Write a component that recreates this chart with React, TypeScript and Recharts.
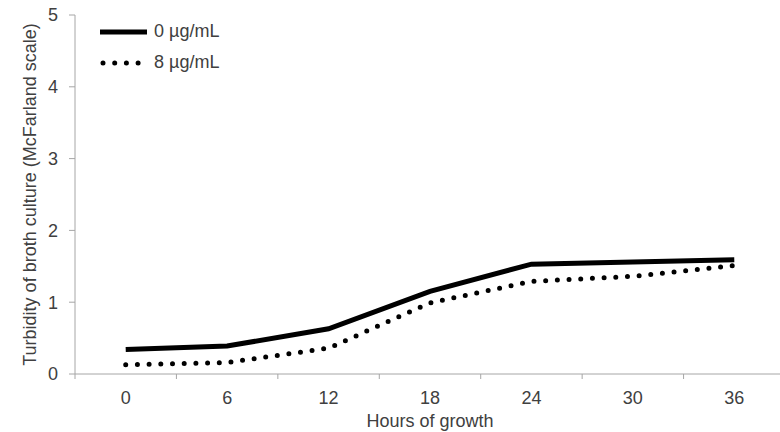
import { LineChart, Line, XAxis, YAxis } from 'recharts';

const hours = [0, 6, 12, 18, 24, 30, 36];
const control = [0.34, 0.39, 0.63, 1.15, 1.53, 1.56, 1.59];
const treated = [0.13, 0.16, 0.36, 0.99, 1.29, 1.36, 1.51];
const yTicks = [0, 1, 2, 3, 4, 5];
const xLabelTicks = [0, 6, 12, 18, 24, 30, 36];
const xMarkTicks = [-3, 3, 9, 15, 21, 27, 33, 39];

const data = hours.map((h, i) => ({ hour: h, control: control[i], treated: treated[i] }));

const font = 'Liberation Sans, Arial, sans-serif';
const textColor = '#404040';
const axisColor = '#a6a6a6';

const LegendBox = () => (
  <div style={{ position: 'absolute', left: 96, top: 16, fontFamily: font, fontSize: 18, color: textColor }}>
    <div style={{ display: 'flex', alignItems: 'center', height: 31 }}>
      <svg width={58} height={10}>
        <line x1={4} y1={5} x2={51} y2={5} stroke="#000" strokeWidth={5} />
      </svg>
      <span>0 µg/mL</span>
    </div>
    <div style={{ display: 'flex', alignItems: 'center', height: 31 }}>
      <svg width={58} height={10}>
        <line x1={7} y1={5} x2={46} y2={5} stroke="#000" strokeWidth={5} strokeDasharray="0 11.7" strokeLinecap="round" />
      </svg>
      <span>8 µg/mL</span>
    </div>
  </div>
);

export default function App() {
  return (
    <div style={{ position: 'absolute', left: 0, top: 0, width: 780, height: 432, overflow: 'hidden', background: '#fff' }}>
      <LineChart width={790} height={432} data={data} margin={{ top: 15, right: 5, bottom: 0, left: 0 }}>
        <XAxis
          xAxisId="b"
          dataKey="hour"
          type="number"
          domain={[-3, 39]}
          ticks={xLabelTicks}
          axisLine={false}
          tickLine={false}
          tickMargin={10}
          height={57}
          tick={{ fill: textColor, fontSize: 18, fontFamily: font }}
          label={{ value: 'Hours of growth', position: 'insideBottom', offset: 5, fill: textColor, fontSize: 18, fontFamily: font }}
        />
        <XAxis
          xAxisId="a"
          dataKey="hour"
          type="number"
          domain={[-3, 39]}
          ticks={xMarkTicks}
          tickFormatter={() => ''}
          height={1}
          tickSize={5}
          stroke={axisColor}
          allowDataOverflow
        />
        <YAxis
          domain={[0, 5]}
          ticks={yTicks}
          width={75}
          tickSize={6}
          tickMargin={11}
          stroke={axisColor}
          tick={{ fill: textColor, fontSize: 18, fontFamily: font }}
          label={{ value: 'Turbidity of broth culture (McFarland scale)', angle: -90, position: 'center', dx: -8, fill: textColor, fontSize: 18, fontFamily: font }}
        />
        <Line xAxisId="b" dataKey="control" stroke="#000" strokeWidth={5} dot={false} isAnimationActive={false} />
        <Line
          xAxisId="b"
          dataKey="treated"
          stroke="#000"
          strokeWidth={5}
          strokeDasharray="0 11.7"
          strokeLinecap="round"
          dot={false}
          isAnimationActive={false}
        />
      </LineChart>
      <LegendBox />
    </div>
  );
}
